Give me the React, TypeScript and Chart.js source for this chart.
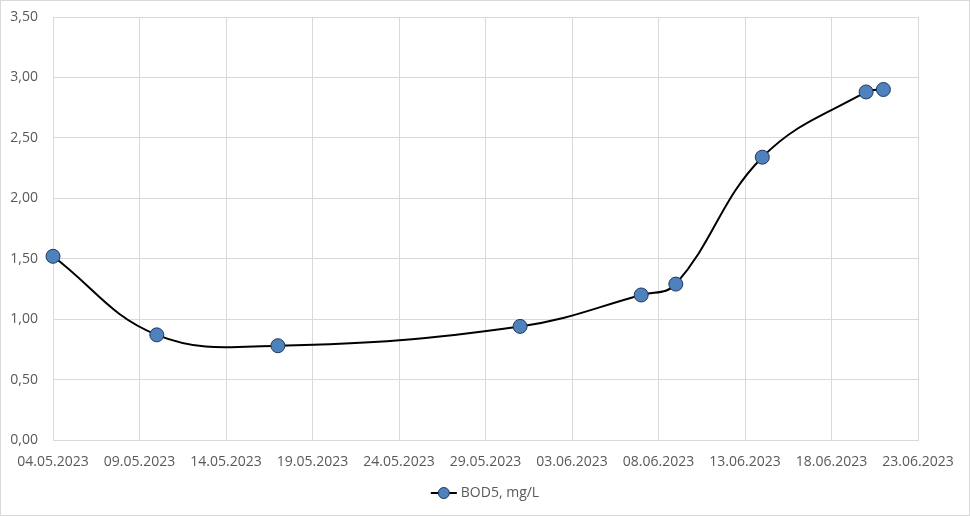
import React, { useEffect, useRef } from 'react';
import { Chart, registerables } from 'chart.js';

Chart.register(...registerables);

// ---- data ----
const sampleDates: string[] = [
  '04.05.2023', '10.05.2023', '17.05.2023', '31.05.2023', '07.06.2023',
  '09.06.2023', '14.06.2023', '20.06.2023', '21.06.2023',
];
const bodValues: number[] = [1.52, 0.87, 0.78, 0.94, 1.2, 1.29, 2.34, 2.88, 2.9];
const seriesLabel = 'BOD5, mg/L';
const xStartDate = '04.05.2023';
const xEndDate = '23.06.2023';
const xStepDays = 5;
const yMin = 0;
const yMax = 3.5;
const yStep = 0.5;

const DAY = 86400000;
const parseDate = (s: string) => {
  const [d, m, y] = s.split('.').map(Number);
  return Date.UTC(y, m - 1, d);
};
const pad = (n: number) => (n < 10 ? '0' + n : '' + n);
const fmtDate = (ms: number) => {
  const d = new Date(ms);
  return pad(d.getUTCDate()) + '.' + pad(d.getUTCMonth() + 1) + '.' + d.getUTCFullYear();
};
const startMs = parseDate(xStartDate);
const dayOffset = (s: string) => Math.round((parseDate(s) - startMs) / DAY);

const FONT = "'Open Sans', sans-serif";
const TEXT = '#595959';
const GRID = '#d9d9d9';
const POINT_FILL = '#4f81bd';
const POINT_BORDER = '#1f3a60';

export default function App() {
  const ref = useRef<HTMLCanvasElement | null>(null);

  useEffect(() => {
    if (!ref.current) return;
    const points = sampleDates.map((d, i) => ({ x: dayOffset(d), y: bodValues[i] }));

    const framePlugin = {
      id: 'frame',
      beforeDraw(chart: any) {
        const ctx = chart.ctx;
        ctx.save();
        ctx.fillStyle = '#ffffff';
        ctx.fillRect(0, 0, chart.width, chart.height);
        ctx.restore();
      },
      afterDraw(chart: any) {
        const ctx = chart.ctx;
        ctx.save();
        ctx.strokeStyle = GRID;
        ctx.lineWidth = 1;
        ctx.strokeRect(0.5, 0.5, chart.width - 1, chart.height - 1);
        // legend
        const label = chart.data.datasets[0].label as string;
        ctx.font = `14px ${FONT}`;
        const tw = ctx.measureText(label).width;
        const markerW = 26;
        const gap = 4;
        const total = markerW + gap + tw;
        const x0 = (chart.width - total) / 2;
        const y = 493;
        ctx.strokeStyle = '#000000';
        ctx.lineWidth = 2;
        ctx.beginPath();
        ctx.moveTo(x0, y);
        ctx.lineTo(x0 + markerW, y);
        ctx.stroke();
        ctx.beginPath();
        ctx.arc(x0 + markerW / 2, y, 5.5, 0, Math.PI * 2);
        ctx.fillStyle = POINT_FILL;
        ctx.fill();
        ctx.lineWidth = 1;
        ctx.strokeStyle = POINT_BORDER;
        ctx.stroke();
        ctx.fillStyle = TEXT;
        ctx.textBaseline = 'middle';
        ctx.textAlign = 'left';
        ctx.fillText(label, x0 + markerW + gap, y);
        ctx.restore();
      },
    };

    const chart = new Chart(ref.current, {
      type: 'line',
      data: {
        datasets: [
          {
            label: seriesLabel,
            data: points,
            borderColor: '#000000',
            borderWidth: 2,
            tension: 0.4,
            clip: false,
            pointRadius: 7,
            pointHoverRadius: 7,
            pointBackgroundColor: POINT_FILL,
            pointBorderColor: POINT_BORDER,
            pointBorderWidth: 1,
            fill: false,
          },
        ],
      },
      options: {
        animation: false,
        responsive: false,
        events: [],
        layout: { autoPadding: false, padding: { top: 17, right: 52, bottom: 0, left: 0 } },
        plugins: {
          legend: { display: false },
          tooltip: { enabled: false },
          title: { display: false },
        },
        scales: {
          x: {
            type: 'linear',
            min: 0,
            max: dayOffset(xEndDate),
            afterFit: (s: any) => { s.height = 76; },
            ticks: {
              stepSize: xStepDays,
              autoSkip: false,
              maxRotation: 0,
              padding: 14,
              color: TEXT,
              font: { family: FONT, size: 14 },
              callback: (v: any) => fmtDate(startMs + Number(v) * DAY),
            },
            grid: { color: GRID, lineWidth: 1, drawTicks: false },
            border: { color: GRID, width: 1 },
          },
          y: {
            type: 'linear',
            min: yMin,
            max: yMax,
            afterFit: (s: any) => { s.width = 53; },
            ticks: {
              stepSize: yStep,
              padding: 0,
              color: TEXT,
              font: { family: FONT, size: 14 },
              callback: (v: any) => Number(v).toFixed(2).replace('.', ','),
            },
            grid: { color: GRID, lineWidth: 1, drawTicks: true, tickLength: 15, tickColor: 'rgba(0,0,0,0)' },
            border: { color: GRID, width: 1 },
          },
        },
      },
      plugins: [framePlugin],
    } as any);
    return () => chart.destroy();
  }, []);

  return (
    <div style={{ position: 'fixed', left: 0, top: 0, width: 970, height: 516, background: '#fff' }}>
      <canvas ref={ref} width={970} height={516} style={{ width: 970, height: 516, display: 'block' }} />
    </div>
  );
}
